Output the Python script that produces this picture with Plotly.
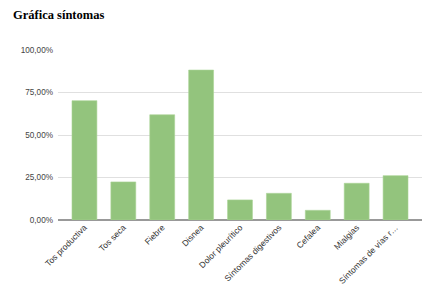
import plotly.graph_objects as go

categories = ["Tos productiva", "Tos seca", "Fiebre", "Disnea", "Dolor pleurítico",
              "Síntomas digestivos", "Cefalea", "Mialgias", "Síntomas de vías r…"]
values = [0.702, 0.224, 0.619, 0.882, 0.118, 0.157, 0.057, 0.216, 0.261]
y_ticks = [0, 0.25, 0.5, 0.75, 1.0]

W, H = 432, 286  # page body has an 8px margin

fig = go.Figure(go.Bar(
    x=categories, y=values,
    marker=dict(color="#93c47d", line=dict(color="#a9d496", width=0.6)),
    width=0.64,
))

fig.update_layout(
    width=W, height=H,
    margin=dict(l=50, r=18, t=42, b=74, autoexpand=False),
    paper_bgcolor="white", plot_bgcolor="white",
    separators=",.",
    showlegend=False,
    title=dict(text="<b>Gráfica síntomas</b>", x=5/W, xanchor="left",
               y=1 - 7/H, yanchor="middle", yref="container",
               font=dict(family="Liberation Serif, Times New Roman, serif", size=12.5, color="#000")),
    font=dict(family="Liberation Sans, Arial, sans-serif", color="#444"),
)
fig.update_xaxes(
    range=[-0.68, 8.68], tickangle=-45, tickfont=dict(size=8.5, color="#333"),
    showgrid=False, showline=False, ticks="", zeroline=False, automargin=False,
)
fig.update_yaxes(
    range=[0, 1.0], tickvals=y_ticks, tickformat=".2%", tickfont=dict(size=8.2, color="#444"),
    showgrid=True, gridcolor="#e0e0e0", gridwidth=1,
    zeroline=True, zerolinecolor="#999", zerolinewidth=1.5,
    ticks="", ticklen=0, ticklabelstandoff=4, showline=False, automargin=False,
)
fig.write_html("out.html")
